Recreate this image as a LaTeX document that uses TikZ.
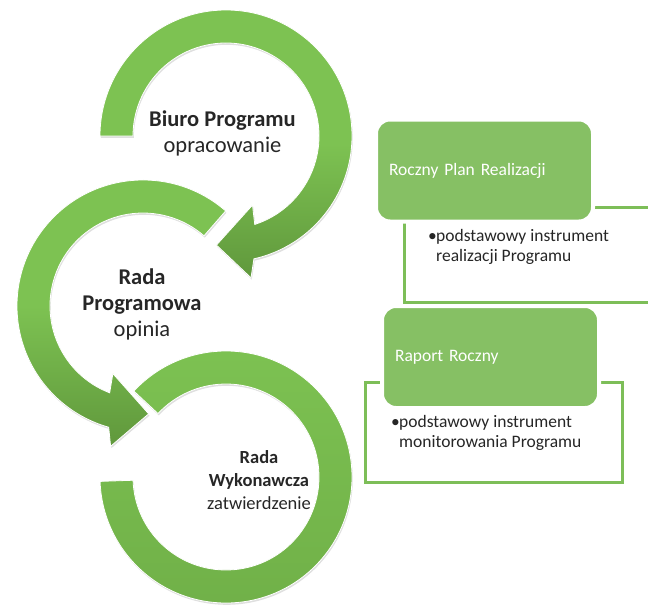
\documentclass[tikz,border=0pt]{standalone}
\usepackage{fontspec}
\setmainfont{Carlito}
\usetikzlibrary{shadows}
\definecolor{ringlight}{RGB}{125,194,82}
\definecolor{ringmid}{RGB}{112,176,72}
\definecolor{ringdark}{RGB}{96,152,60}
\definecolor{boxgreen}{RGB}{134,192,100}
\definecolor{boxline}{RGB}{125,190,88}
\definecolor{textgray}{RGB}{38,38,38}

\begin{document}
\begin{tikzpicture}[x=1pt, y=-1pt,
    ringband/.style={draw=white, line width=0.8pt,
        drop shadow={opacity=0.25, shadow xshift=0.8pt, shadow yshift=-1.8pt}},
    ringtext/.style={align=center, text=textgray, font=\fontsize{22.5}{26}\selectfont},
    frameline/.style={draw=boxline, line width=3pt},
    titlebox/.style={rounded corners=14pt, fill=boxgreen, draw=white, line width=4pt,
        minimum height=102pt, text width=191pt, inner xsep=13pt, align=left,
        text=white, font=\fontsize{17.5}{20}\selectfont},
    bullettext/.style={anchor=north west, inner sep=0pt, align=left, text=textgray,
        font=\fontsize{17.5}{20}\selectfont}]
\useasboundingbox (0,0) rectangle (648,605);

% Centres of the three circles
\coordinate (biuroC) at (226,136);
\coordinate (programowaC) at (143,306);
\coordinate (wykonawczaC) at (226,477);

% Rada Wykonawcza ring, no arrow head
\begin{scope}[shift={(wykonawczaC)}]
    \path[ringband, top color=ringlight, bottom color=ringmid]
        (223:126) arc[start angle=223, end angle=538, radius=126]
        -- (538:93) arc[start angle=538, end angle=223, radius=93] -- cycle;
\end{scope}

% Rada Programowa ring with arrow towards the bottom ring
\begin{scope}[shift={(programowaC)}]
    \path[ringband, top color=ringlight, bottom color=ringdark, middle color=ringlight]
        (-49:126) arc[start angle=-49, end angle=-254.2, radius=126]
        -- (-257:144) -- (-273:108) -- (-246:74) -- (-249:93)
        arc[start angle=-249, end angle=-49, radius=93] -- cycle;
\end{scope}

% Biuro Programu ring with arrow towards the middle ring
\begin{scope}[shift={(biuroC)}]
    \path[ringband, top color=ringlight, bottom color=ringdark, middle color=ringlight]
        (180:126) arc[start angle=180, end angle=437.2, radius=126]
        -- (440:144) -- (455:109.5) -- (429:74) -- (432:93)
        arc[start angle=432, end angle=180, radius=93] -- cycle;
\end{scope}

% Ring labels
\node[ringtext] (biuro) at (222.5,133) {\textbf{Biuro Programu}\\opracowanie};
\node[ringtext] (programowa) at (142,304) {\textbf{Rada}\\\textbf{Programowa}\\opinia};
\node[ringtext, font=\fontsize{18.5}{23}\selectfont] (wykonawcza) at (259,480)
    {\textbf{Rada}\\\textbf{Wykonawcza}\\zatwierdzenie};

% Frames behind the green boxes
\draw[frameline] (650,207) -- (404,207) -- (404,302) -- (650,302);
\draw[frameline] (365,382) rectangle (622,482);

% Green title boxes
\node[titlebox] (plan) at (484.5,170.5) {Roczny Plan Realizacji};
\node[titlebox] (raport) at (490.5,357) {Raport Roczny};

% Bullet texts
\node[bullettext] (planinfo) at (428,229)
    {\makebox[8pt][l]{\textbullet}podstawowy instrument\\\hspace*{8pt}realizacji Programu};
\node[bullettext] (raportinfo) at (391,415)
    {\makebox[8pt][l]{\textbullet}podstawowy instrument\\\hspace*{8pt}monitorowania Programu};
\end{tikzpicture}
\end{document}
